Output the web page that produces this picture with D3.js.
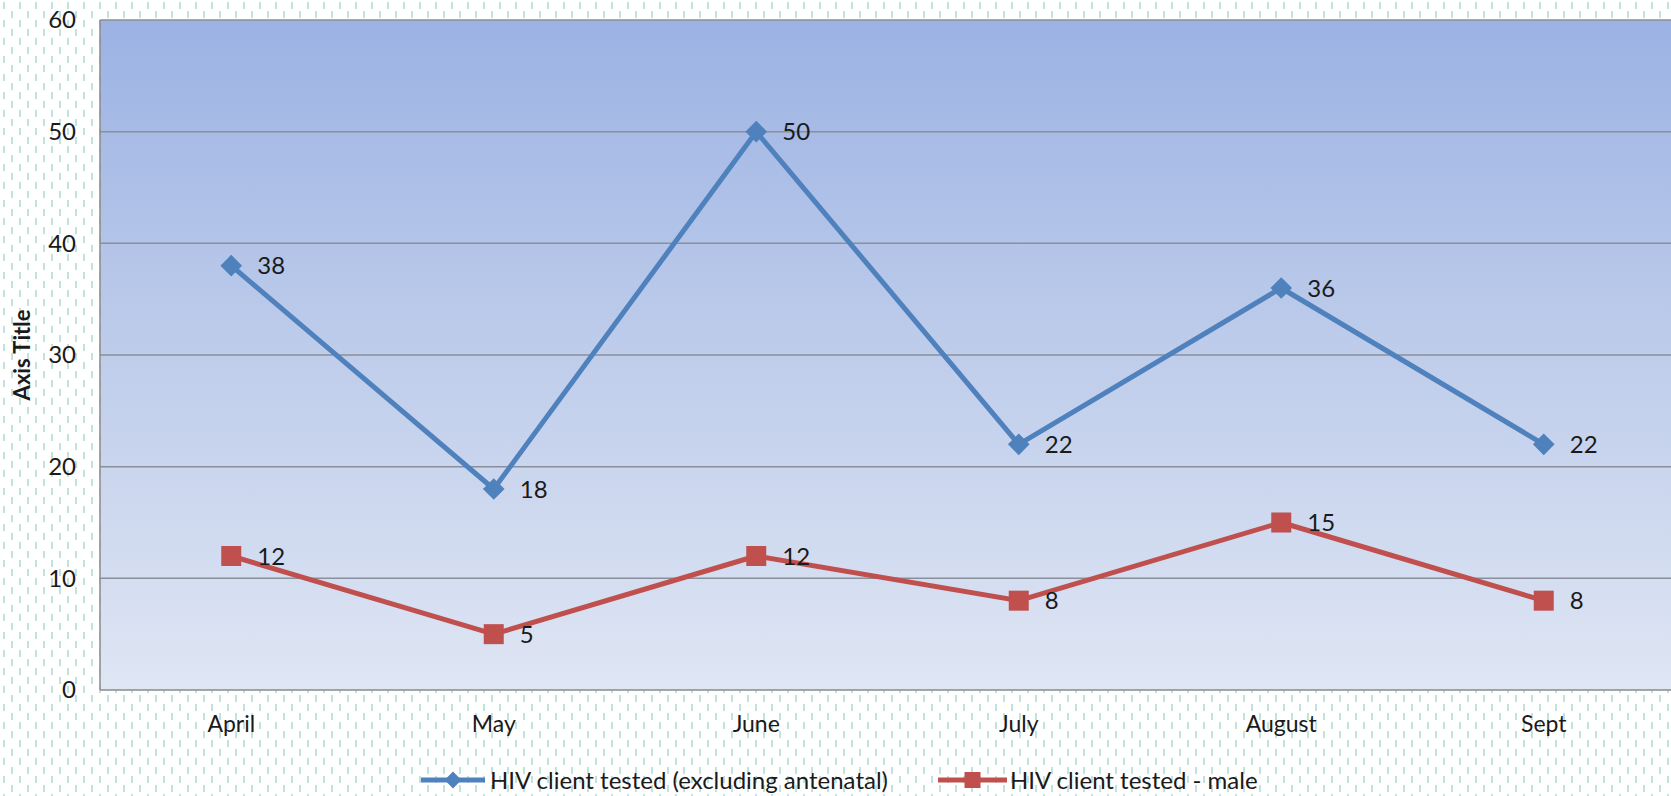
<!DOCTYPE html>
<html><head><meta charset="utf-8">
<script src="https://cdn.jsdelivr.net/npm/d3@7"></script>
<style>body{margin:0;background:#fff;overflow:hidden}svg{display:block}text{font-family:Lato,"Open Sans",sans-serif;fill:#1a1a1a}</style>
</head><body><svg id="c" width="1671" height="796"></svg>
<script>
const categories = ["April","May","June","July","August","Sept"];
const seriesNames = ["HIV client tested (excluding antenatal)","HIV client tested - male"];
const testedAll = [38,18,50,22,36,22];
const testedMale = [12,5,12,8,15,8];
const yTicks = [0,10,20,30,40,50,60];
const yTitle = "Axis Title";

const W=1671,H=796;
const m={left:100,top:20,right:-4,bottom:106};
const svg=d3.select("#c");
const defs=svg.append("defs");
const pat=defs.append("pattern").attr("id","dots").attr("patternUnits","userSpaceOnUse").attr("width",16).attr("height",18);
pat.append("rect").attr("width",16).attr("height",18).attr("fill","#fff");
pat.append("rect").attr("x",3).attr("y",2).attr("width",2).attr("height",7).attr("fill","#c2e3dd");
pat.append("rect").attr("x",11).attr("y",11).attr("width",2).attr("height",7).attr("fill","#c2e3dd");
const grad=defs.append("linearGradient").attr("id","bg").attr("x1",0).attr("y1",0).attr("x2",0).attr("y2",1);
grad.append("stop").attr("offset","0%").attr("stop-color","#9bb2e3");
grad.append("stop").attr("offset","50%").attr("stop-color","#bfcdeb");
grad.append("stop").attr("offset","100%").attr("stop-color","#dfe6f4");

svg.append("rect").attr("width",W).attr("height",H).attr("fill","url(#dots)");

const x=d3.scaleBand().domain(categories).range([m.left,W-m.right]);
const y=d3.scaleLinear().domain([0,60]).range([H-m.bottom,m.top]);

svg.append("rect").attr("x",m.left).attr("y",m.top).attr("width",W-m.right-m.left).attr("height",y(0)-m.top).attr("fill","url(#bg)");

// gridlines
svg.append("g").selectAll("line").data(yTicks.filter(d=>d>0)).join("line")
  .attr("x1",m.left).attr("x2",W).attr("y1",d=>y(d)).attr("y2",d=>y(d))
  .attr("stroke","#8a8f99").attr("stroke-width",1.5);
// axes border
svg.append("line").attr("x1",m.left).attr("x2",m.left).attr("y1",m.top).attr("y2",y(0)).attr("stroke","#8a8a8a").attr("stroke-width",1.5);
svg.append("line").attr("x1",m.left).attr("x2",W).attr("y1",y(0)).attr("y2",y(0)).attr("stroke","#8a8a8a").attr("stroke-width",1.5);

// y axis labels
const yAxis=d3.axisLeft(y).tickValues(yTicks).tickSize(0).tickPadding(24);
const ya=svg.append("g").attr("transform",`translate(${m.left},0)`).call(yAxis);
ya.select(".domain").remove();
ya.selectAll("text").style("font-size","24px").attr("fill","#1a1a1a").style("font-family","Lato");

// x axis labels
const xAxis=d3.axisBottom(x).tickSize(0).tickPadding(26);
const xa=svg.append("g").attr("transform",`translate(0,${y(0)})`).call(xAxis);
xa.select(".domain").remove();
xa.selectAll("text").style("font-size","23px").attr("fill","#1a1a1a").style("font-family","Lato");

svg.append("text").attr("transform",`translate(30,${(m.top+y(0))/2}) rotate(-90)`).attr("text-anchor","middle")
  .style("font-size","22px").style("font-weight","bold").text(yTitle);

const cx=d=>x(d)+x.bandwidth()/2;
const line=d3.line().x(d=>cx(d.c)).y(d=>y(d.v));
const series=[
  {vals:testedAll,color:"#4f81bd",shape:"diamond"},
  {vals:testedMale,color:"#c0504d",shape:"square"}
];
series.forEach(s=>{
  const data=categories.map((c,i)=>({c,v:s.vals[i]}));
  svg.append("path").datum(data).attr("d",line).attr("fill","none").attr("stroke",s.color).attr("stroke-width",5).attr("stroke-linejoin","round");
  const g=svg.append("g");
  data.forEach(d=>{
    if(s.shape==="diamond"){
      g.append("path").attr("d",d3.symbol(d3.symbolDiamond2,300)()).attr("transform",`translate(${cx(d.c)},${y(d.v)})`).attr("fill",s.color);
    } else {
      g.append("rect").attr("x",cx(d.c)-10).attr("y",y(d.v)-10).attr("width",20).attr("height",20).attr("fill",s.color);
    }
    g.append("text").attr("x",cx(d.c)+26).attr("y",y(d.v)).attr("dy","0.36em").style("font-size","24px").text(d.v);
  });
});

// legend
const leg=[{x1:421,x2:485,tx:490,s:series[0],name:seriesNames[0]},{x1:938,x2:1007,tx:1010,s:series[1],name:seriesNames[1]}];
const ly=780;
leg.forEach(l=>{
  svg.append("line").attr("x1",l.x1).attr("x2",l.x2).attr("y1",ly).attr("y2",ly).attr("stroke",l.s.color).attr("stroke-width",5);
  const mx=(l.x1+l.x2)/2;
  if(l.s.shape==="diamond") svg.append("path").attr("d",d3.symbol(d3.symbolDiamond2,180)()).attr("transform",`translate(${mx},${ly})`).attr("fill",l.s.color);
  else svg.append("rect").attr("x",mx-8).attr("y",ly-8).attr("width",16).attr("height",16).attr("fill",l.s.color);
  svg.append("text").attr("x",l.tx).attr("y",ly).attr("dy","0.36em").style("font-size","24px").text(l.name);
});
</script></body></html>
